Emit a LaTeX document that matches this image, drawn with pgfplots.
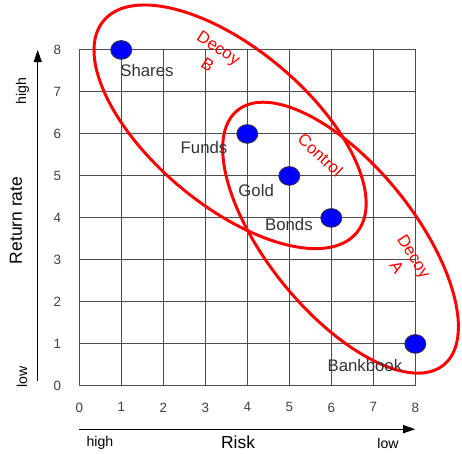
\documentclass[border=0pt]{standalone}
\usepackage{pgfplots}
\pgfplotsset{compat=1.18}
\usepackage{fontspec}
\setmainfont{Liberation Sans}
\usetikzlibrary{arrows.meta}
\definecolor{ptblue}{HTML}{0000FF}
\definecolor{txtgray}{HTML}{333333}
\definecolor{ringred}{HTML}{FF0000}
\begin{document}
\begin{tikzpicture}
\begin{axis}[
  x=1.1cm, y=1.1cm,
  xmin=0, xmax=8, ymin=0, ymax=8,
  xtick={0,...,8}, ytick={0,...,8},
  grid=major,
  grid style={black!70, line width=0.7pt},
  axis line style={black!70, line width=0.7pt},
  major tick length=0pt,
  clip=false,
  /pgf/number format/assume math mode=true,
  tick label style={font=\fontsize{10}{12}\selectfont, text=black!75},
  xticklabel style={yshift=-9pt},
  yticklabel style={xshift=-10pt},
]
% the two decoy sets; their overlap is the control set
\draw[ringred, line width=2.2pt, rotate around={-40:(axis cs:3.59,6.17)}]
  (axis cs:3.59,6.17) ellipse [x radius=4.323cm, y radius=2.046cm];
\draw[ringred, line width=2.2pt, rotate around={-51:(axis cs:6.22,3.53)}]
  (axis cs:6.22,3.53) ellipse [x radius=4.29cm, y radius=1.925cm];

\addplot[only marks, mark=*, mark size=7pt,
  mark options={fill=ptblue, draw=black!80, line width=0.6pt, xscale=1.12}]
  coordinates {(1,8) (4,6) (5,5) (6,4) (8,1)};

% point names
\begin{scope}[every node/.style={text=txtgray, font=\fontsize{12.5}{14}\selectfont}]
\node at (axis cs:1.61,7.52) {Shares};
\node at (axis cs:2.97,5.68) {Funds};
\node at (axis cs:4.21,4.65) {Gold};
\node at (axis cs:4.99,3.85) {Bonds};
\node at (axis cs:6.80,0.49) {Bankbook};
\end{scope}

% set names
\begin{scope}[every node/.style={text=ringred, align=center, font=\fontsize{12.5}{15}\selectfont}]
\node[rotate=-33] at (axis cs:3.19,7.85) {Decoy\\B};
\node[rotate=-43] at (axis cs:5.74,5.50) {Control};
\node[rotate=-58] at (axis cs:7.77,2.96) {Decoy\\A};
\end{scope}

% direction arrows and axis names
\draw[black, line width=0.7pt, -{Triangle[length=9pt, width=6pt]}] (axis cs:-0.99,0.12) -- (axis cs:-0.99,8.0);
\draw[black, line width=0.7pt, -{Triangle[length=9pt, width=6pt]}] (axis cs:0,-1.03) -- (axis cs:8.0,-1.03);
\node[rotate=90, font=\fontsize{10.5}{12}\selectfont] at (axis cs:-1.35,7.02) {high};
\node[rotate=90, font=\fontsize{10.5}{12}\selectfont] at (axis cs:-1.36,0.21) {low};
\node[rotate=90, font=\fontsize{13}{15}\selectfont] at (axis cs:-1.51,3.94) {Return rate};
\node[font=\fontsize{10.5}{12}\selectfont] at (axis cs:0.49,-1.36) {high};
\node[font=\fontsize{10.5}{12}\selectfont] at (axis cs:7.35,-1.36) {low};
\node[font=\fontsize{13}{15}\selectfont] at (axis cs:3.78,-1.34) {Risk};

\coordinate (bbA) at (axis cs:-1.888,9.189);
\coordinate (bbB) at (axis cs:9.112,-1.599);
\end{axis}
\pgfresetboundingbox
\useasboundingbox (bbA) rectangle (bbB);
\end{tikzpicture}
\end{document}
